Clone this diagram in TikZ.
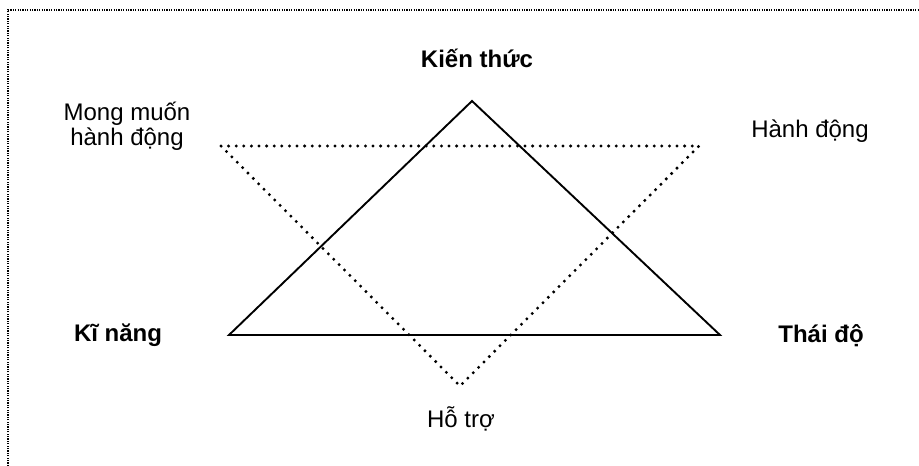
\documentclass[tikz,border=0pt]{standalone}
\usepackage{fontspec}
\setmainfont{Liberation Sans}
\begin{document}
\begin{tikzpicture}[x=1pt,y=-1pt,
  lbl/.style={font=\fontsize{24}{25}\selectfont, align=center, inner sep=0pt},
  blbl/.style={lbl, font=\fontsize{24}{25}\selectfont\bfseries},
  solidtri/.style={line width=1.9pt, line join=miter},
  dottri/.style={line width=3.3pt, line cap=round, dash pattern=on 0pt off 7.6pt},
  frame/.style={line width=1.4pt, dash pattern=on 1.2pt off 1.2pt}]
\useasboundingbox (0,0) rectangle (919,466);
\coordinate (fbl) at (8,466);
\coordinate (ftl) at (8,10);
\coordinate (ftr) at (919,10);
\draw[frame] (fbl) -- (ftl) -- (ftr);
% solid triangle
\coordinate (K) at (472,101);
\coordinate (L) at (229,335);
\coordinate (R) at (720,335);
\draw[solidtri] (K) -- (R) -- (L) -- cycle;
% dotted triangle
\coordinate (A) at (221,146);
\coordinate (B) at (699,146);
\coordinate (C) at (460,386);
\draw[dottri] (A) -- (B) -- (C) -- cycle;
% labels
\node[blbl] (kt) at (477,58) {Kiến thức};
\node[lbl] (mm) at (127,126) {Mong muốn\\hành động};
\node[lbl] (hd) at (810,131) {Hành động};
\node[blbl] (kn) at (118,335) {Kĩ năng};
\node[blbl] (td) at (821,336) {Thái độ};
\node[lbl] (ht) at (461,419) {Hỗ trợ};
\end{tikzpicture}
\end{document}
